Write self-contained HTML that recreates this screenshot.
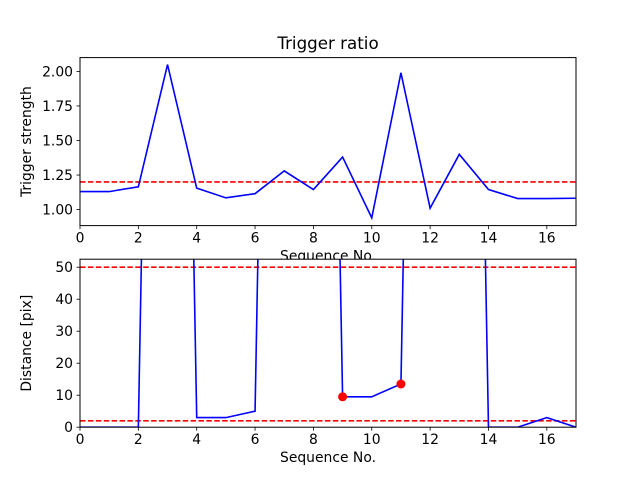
<!DOCTYPE html>
<html><head><meta charset="utf-8"><style>
html,body{margin:0;padding:0;background:#fff}
svg{display:block;font-family:"DejaVu Sans","Liberation Sans",sans-serif}
</style></head><body>
<svg id="fig" width="640" height="480" viewBox="0 0 640 480" xmlns="http://www.w3.org/2000/svg">
<rect width="640" height="480" fill="#fff"/>
<text x="328" y="49" font-size="16.7" text-anchor="middle">Trigger ratio</text>
<g id="top"></g>
<g id="bot"></g>
</svg>
<script>
const seq = [0,1,2,3,4,5,6,7,8,9,10,11,12,13,14,15,16,17];
const strength = [1.13,1.13,1.165,2.05,1.155,1.085,1.115,1.28,1.145,1.38,0.94,1.99,1.01,1.40,1.145,1.08,1.08,1.082];
const distance = [0,0,0,500,3,3,5,500,500,9.5,9.5,13.5,500,500,0,0,3,0];
const markIdx = [9,11];
const strengthThresh = [1.2];
const distThresh = [50,2];
const xTicks = [0,2,4,6,8,10,12,14,16];
const yTicksTop = [1.00,1.25,1.50,1.75,2.00];
const yTicksBot = [0,10,20,30,40,50];

const NS="http://www.w3.org/2000/svg";
function mk(parent,tag,attrs){const e=document.createElementNS(NS,tag);for(const k in attrs)e.setAttribute(k,attrs[k]);parent.appendChild(e);return e;}

function panel(g,top,bottom,ymin,ymax,yTicks,fmt,ys,thresh,ylabel,clipId,marks){
  const L=80,R=576;
  const sx=v=>L+(v-0)/(17-0)*(R-L);
  const sy=v=>bottom-(v-ymin)/(ymax-ymin)*(bottom-top);
  const defs=mk(g,'defs',{});
  const cp=mk(defs,'clipPath',{id:clipId});
  mk(cp,'rect',{x:L,y:top,width:R-L,height:bottom-top});
  const bg=mk(g,'rect',{x:L,y:top,width:R-L,height:bottom-top,fill:'#fff'});
  
  
  const data=mk(g,'g',{'clip-path':'url(#'+clipId+')'});
  thresh.forEach(t=>{
    const l=mk(data,'line',{x1:L,x2:R,y1:sy(t),y2:sy(t),stroke:'#ff0000','stroke-width':1.6,'stroke-dasharray':'5.5,2.4'});
    
    
  });
  const pts=seq.map((x,i)=>sx(x).toFixed(2)+','+sy(ys[i]).toFixed(2)).join(' ');
  const pl=mk(data,'polyline',{points:pts,fill:'none',stroke:'#0000ff','stroke-width':1.6});
  
  
  (marks||[]).forEach(i=>{
    const c=mk(data,'circle',{cx:sx(seq[i]),cy:sy(ys[i]),r:4.5,fill:'#ff0000'});
    
    
  });
  const fr=mk(g,'rect',{x:L,y:top,width:R-L,height:bottom-top,fill:'none',stroke:'#000','stroke-width':1});
  
  
  xTicks.forEach(t=>{
    mk(g,'line',{x1:sx(t),x2:sx(t),y1:bottom,y2:bottom+3.5,stroke:'#000','stroke-width':0.8});
    const tx=mk(g,'text',{x:sx(t),y:bottom+17,'font-size':13.9,'text-anchor':'middle'});
    tx.textContent=t;
    
    
  });
  yTicks.forEach(t=>{
    mk(g,'line',{x1:L-3.5,x2:L,y1:sy(t),y2:sy(t),stroke:'#000','stroke-width':0.8});
    const tx=mk(g,'text',{x:L-7,y:sy(t)+5,'font-size':13.9,'text-anchor':'end'});
    tx.textContent=fmt(t);
    
    
  });
  const xl=mk(g,'text',{x:(L+R)/2,y:bottom+35,'font-size':13.9,'text-anchor':'middle'});
  xl.textContent='Sequence No.';
  
  
  const yl=mk(g,'text',{x:0,y:0,'font-size':13.9,'text-anchor':'middle',transform:'translate(31,'+((top+bottom)/2)+') rotate(-90)'});
  yl.textContent=ylabel;
  
  
}
// top drawn first so bottom axes background covers part of the top x-label, like the reference
panel(document.getElementById('top'),57.6,225.6,0.884,2.10,yTicksTop,v=>v.toFixed(2),strength,strengthThresh,'Trigger strength','ct',[]);
panel(document.getElementById('bot'),259.2,427.2,0,52.5,yTicksBot,v=>String(v),distance,distThresh,'Distance [pix]','cb',markIdx);
</script>
</body></html>
